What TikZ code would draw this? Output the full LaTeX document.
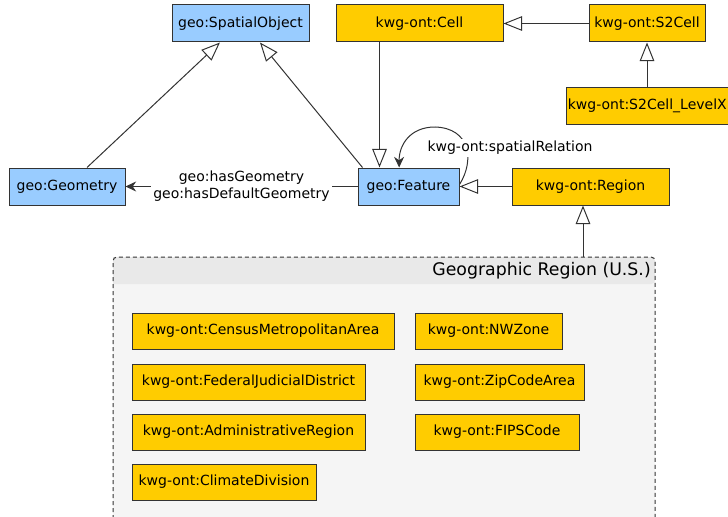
\documentclass[tikz,border=0pt]{standalone}
\usepackage{fontspec}
\setmainfont{DejaVu Sans}
\usepackage{tikz}
\usetikzlibrary{arrows.meta}

\definecolor{geoblue}{RGB}{153,204,255}
\definecolor{kwgyellow}{RGB}{255,204,0}
\definecolor{boxline}{RGB}{51,51,51}
\definecolor{groupfill}{RGB}{245,245,245}
\definecolor{groupband}{RGB}{233,233,233}

\tikzset{
  classbox/.style={draw=boxline, line width=0.75pt, inner sep=1pt, minimum height=27.75pt,
    font=\fontsize{10.5}{12.75}\selectfont},
  geoclass/.style={classbox, fill=geoblue},
  kwgclass/.style={classbox, fill=kwgyellow},
  isa/.style={draw=boxline, line width=0.75pt, -{Triangle[open, length=14pt, width=11pt]}},
  prop/.style={draw=boxline, line width=0.75pt, -{Stealth[length=8pt, width=7.5pt]}},
  proplabel/.style={fill=white, inner sep=1.5pt, align=center, font=\fontsize{10.5}{12.75}\selectfont}
}

\begin{document}
\begin{tikzpicture}[x=0.75pt,y=0.75pt,yscale=-1,xscale=1]
        \useasboundingbox (0,0) rectangle (728,517);

        %Group box [Geographic Region (U.S.)]
        \fill [groupfill, rounded corners=3pt] (113,257) rectangle (655,540) ;
        \fill [groupband, rounded corners=3pt] (113,257) -- (655,257) -- (655,284) [sharp corners] -- (113,284) -- cycle ;
        \draw [draw=boxline, line width=0.75pt, dash pattern=on 3pt off 2.25pt, rounded corners=3pt] (113,540) -- (113,257) -- (655,257) -- (655,540) ;
        % Text Node
        \node (grptitle) [anchor=east, inner sep=0.75pt, font=\fontsize{13}{15}\selectfont] at (652,271) {Geographic Region (U.S.)};
        \coordinate (grptop) at (583,257);

        % Class Nodes
        \node (spatial) [geoclass, minimum width=102.75pt] at (240.5,23.5) {geo:SpatialObject};
        \node (cell) [kwgclass, minimum width=125.25pt] at (419.5,23.5) {kwg-ont:Cell};
        \node (s2cell) [kwgclass, minimum width=87pt] at (647,23.5) {kwg-ont:S2Cell};
        \node (s2level) [kwgclass, anchor=west, minimum height=27pt] at (566,106) {kwg-ont:S2Cell\_LevelX};
        \node (geometry) [geoclass, minimum width=87pt] at (67,186.5) {geo:Geometry};
        \node (feature) [geoclass, minimum width=75.75pt] at (408.5,186.5) {geo:Feature};
        \node (region) [kwgclass, minimum width=117.75pt] at (590.5,186.5) {kwg-ont:Region};

        % Region members
        \node (census) [kwgclass, minimum width=196.5pt, minimum height=27pt] at (263,331) {kwg-ont:CensusMetropolitanArea};
        \node (nwzone) [kwgclass, minimum width=110.25pt, minimum height=27pt] at (488.5,331) {kwg-ont:NWZone};
        \node (federal) [kwgclass, minimum width=174.75pt, minimum height=27pt] at (248.5,382) {kwg-ont:FederalJudicialDistrict};
        \node (zipcode) [kwgclass, minimum width=126.75pt, minimum height=27pt] at (499.5,382) {kwg-ont:ZipCodeArea};
        \node (admin) [kwgclass, minimum width=174.75pt, minimum height=27pt] at (248.5,432) {kwg-ont:AdministrativeRegion};
        \node (fips) [kwgclass, minimum width=123pt, minimum height=27pt] at (497,432) {kwg-ont:FIPSCode};
        \node (climate) [kwgclass, minimum width=138pt, minimum height=27pt] at (224,482) {kwg-ont:ClimateDivision};

        %Straight Lines [subclass]
        \draw [isa] ([xshift=15pt]geometry.north) -- ([xshift=-15.4pt]spatial.south) ;
        \draw [isa] ([xshift=3.75pt]feature.north west) -- ([xshift=14.6pt]spatial.south) ;
        \draw [isa] ([xshift=33pt]cell.south west) -- ([xshift=33pt]cell.south west |- feature.north) ;
        \draw [isa] (s2cell.west) -- (cell.east) ;
        \draw [isa] (s2cell.south |- s2level.north) -- (s2cell.south) ;
        \draw [isa] (region.west) -- (feature.east) ;
        \draw [isa] (grptop) -- (grptop |- region.south) ;

        %Properties
        \draw [prop] (feature.west) -- (geometry.east) node [proplabel, midway] {geo:hasGeometry\\geo:hasDefaultGeometry} ;
        \draw [prop] ([yshift=-1.5pt]feature.east) .. controls (475,160) and (470,128) .. (435,127) .. controls (410,127) and (399,145) .. ([xshift=-7pt]feature.north) ;
        % Text Node
        \node (spatrel) [proplabel] at (510,148) {kwg-ont:spatialRelation};

\end{tikzpicture}
\end{document}
